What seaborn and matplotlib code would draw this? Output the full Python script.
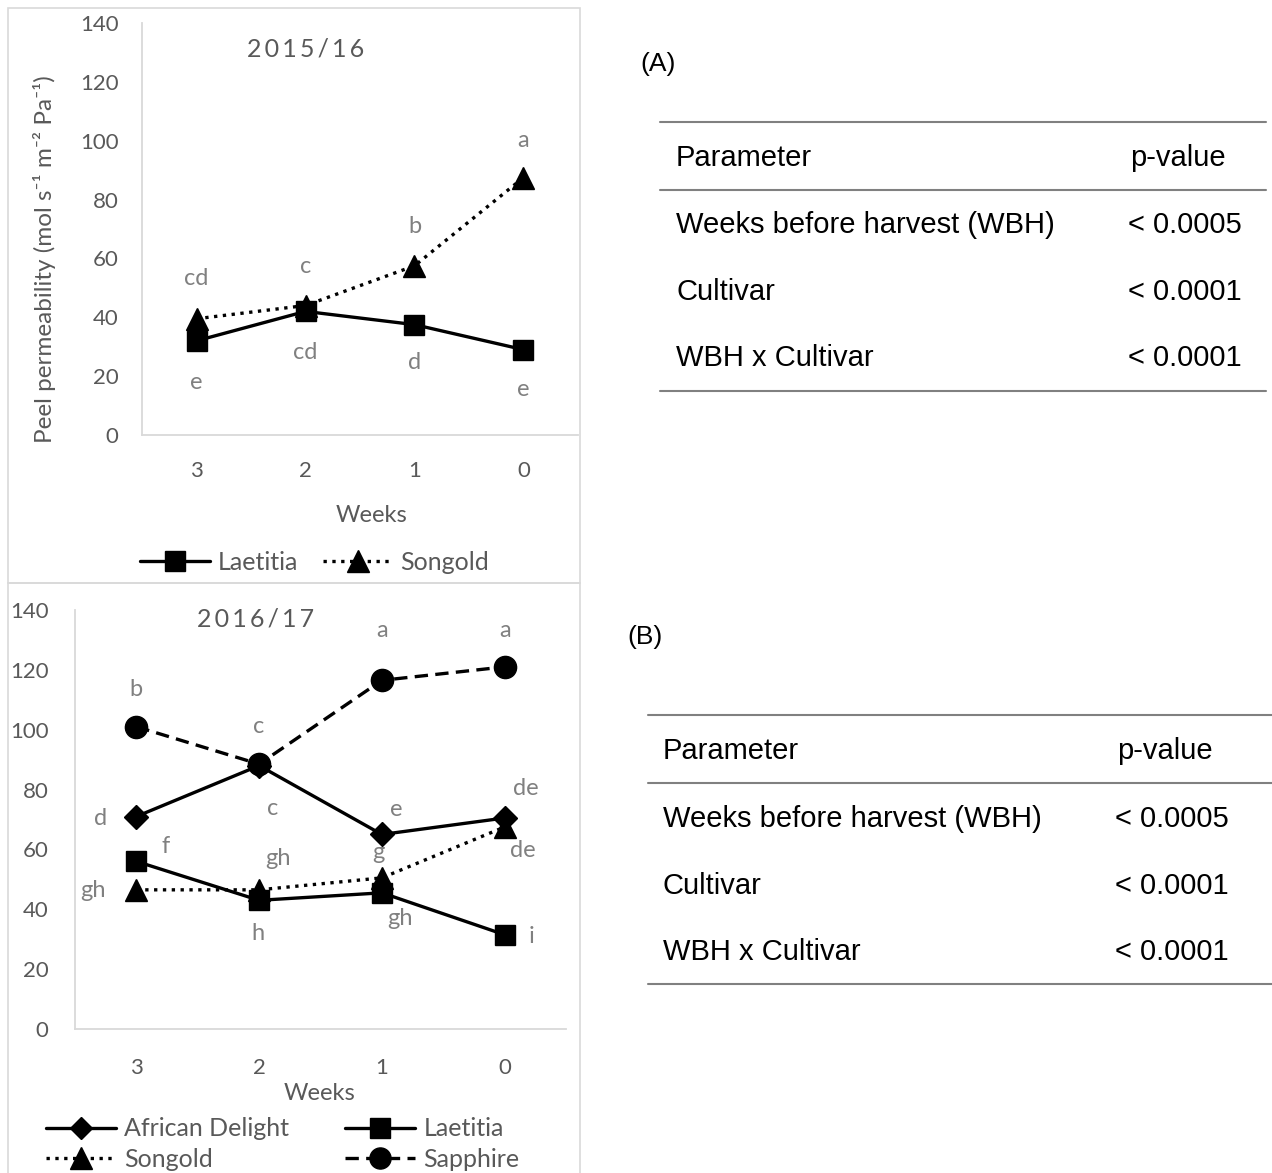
import matplotlib
matplotlib.use("Agg")
import matplotlib.pyplot as plt
import seaborn as sns
from matplotlib.lines import Line2D
from matplotlib.patches import Rectangle

# ---------------- data ----------------
weeks = ["3", "2", "1", "0"]

# 2015/16
laetitia_1516 = [32, 42, 37.5, 29]
songold_1516 = [39.5, 44, 57.5, 87.5]
letters_1516 = ["cd", "c", "b", "a", "e", "cd", "d", "e"]

# 2016/17
african_1617 = [71, 88, 65, 70.5]
laetitia_1617 = [56, 43, 45.5, 31.5]
songold_1617 = [46.5, 46.5, 50.5, 67.5]
sapphire_1617 = [101, 88.5, 116.5, 121]
letters_1617 = ["b", "c", "a", "a", "d", "c", "e", "de",
                "f", "gh", "g", "de", "gh", "h", "gh", "i"]

table_params = ["Weeks before harvest (WBH)", "Cultivar", "WBH x Cultivar"]
table_pvals_a = ["< 0.0005", "< 0.0001", "< 0.0001"]
table_pvals_b = ["< 0.0005", "< 0.0001", "< 0.0001"]

# letter label positions (category index, y value)
pos_1516 = [(0, 53.3), (1, 57.1), (2, 71), (3, 100.2),
            (0, 17.7), (1, 28.2), (2, 24.5), (3, 15.3)]
pos_1617 = [(0, 113.5), (1, 101), (2, 133.3), (3, 133.3),
            (-0.29, 70.3), (1.11, 73.7), (2.12, 73.3), (3.17, 80.4),
            (0.24, 61), (1.15, 56.9), (1.97, 58.9), (3.15, 59.6),
            (-0.35, 46.2), (0.99, 31.8), (2.15, 36.8), (3.22, 30.8)]

# ---------------- style ----------------
sns.set_theme(style="white")
FONT = ["Lato", "DejaVu Sans"]
plt.rcParams["font.family"] = FONT
TXT = "#595959"
LET = "#808080"
SPINE = "#d9d9d9"

W, H = 1272, 1173
fig = plt.figure(figsize=(W / 100, H / 100), dpi=100)
fig.patch.set_facecolor("white")


def fx(x):
    return x / W


def fy(y):
    return 1 - y / H


def make_axes(left, right, bottom, top):
    return fig.add_axes([fx(left), fy(bottom), (right - left) / W, (bottom - top) / H])


def style_axes(ax, ypad, xpad):
    ax.set_xlim(-0.5, 3.5)
    ax.set_ylim(0, 140)
    ax.set_yticks(range(0, 141, 20))
    ax.set_xticks(range(4))
    ax.set_xticklabels(weeks)
    for s in ["top", "right"]:
        ax.spines[s].set_visible(False)
    for s in ["left", "bottom"]:
        ax.spines[s].set_color(SPINE)
        ax.spines[s].set_linewidth(1.3)
    ax.tick_params(axis="y", length=0, pad=ypad, labelsize=16, labelcolor=TXT)
    ax.tick_params(axis="x", length=0, pad=xpad, labelsize=16, labelcolor=TXT)
    ax.set_facecolor("none")
    ax.grid(False)


def draw(ax, vals, marker, ls, ms, label):
    sns.lineplot(x=list(range(4)), y=vals, ax=ax, color="black", marker=marker,
                 linestyle=ls, linewidth=2.4, markersize=ms,
                 markeredgecolor="black", markerfacecolor="black",
                 markeredgewidth=1, label=label, legend=False)


SP = "\u2009"

# panel borders
fig.add_artist(Rectangle((fx(8), fy(583)), (580 - 8) / W, (583 - 8) / H,
                         transform=fig.transFigure, fill=False,
                         edgecolor=SPINE, linewidth=1.2))
fig.add_artist(Rectangle((fx(8), fy(1190)), (580 - 8) / W, (1190 - 583) / H,
                         transform=fig.transFigure, fill=False,
                         edgecolor=SPINE, linewidth=1.2))

# ---------------- top chart ----------------
ax1 = make_axes(142, 578, 435, 23)
style_axes(ax1, 17, 19)
draw(ax1, laetitia_1516, "s", "-", 15, "Laetitia")
draw(ax1, songold_1516, "^", ":", 16, "Songold")
for (x, y), t in zip(pos_1516, letters_1516):
    ax1.text(x, y, t, ha="center", va="center", fontsize=17, color=LET)
ax1.text(0.376, 0.937, SP.join("2015/16"),
         transform=ax1.transAxes, ha="center", va="center", fontsize=18, color=TXT)
ax1.set_ylabel("Peel permeability (mol s\u207b\u00b9 m\u207b\u00b2 Pa\u207b\u00b9)",
               fontsize=17.5, color=TXT)
ax1.yaxis.set_label_coords(-0.197, 0.427)
ax1.set_xlabel("Weeks", fontsize=17, color=TXT)
ax1.xaxis.set_label_coords(0.527, -0.17)
h1 = ax1.get_lines()
fig.legend(h1, ["Laetitia", "Songold"], loc="center left",
           bbox_to_anchor=(fx(140), fy(562)), ncol=2, frameon=False,
           fontsize=18, labelcolor=TXT, handlelength=2.8, handletextpad=0.3,
           columnspacing=1.0, borderpad=0, borderaxespad=0, markerscale=0.95)

# ---------------- bottom chart ----------------
ax2 = make_axes(75, 566, 1029, 610)
style_axes(ax2, 19, 21)
draw(ax2, african_1617, "D", "-", 12, "African Delight")
draw(ax2, laetitia_1617, "s", "-", 15, "Laetitia")
draw(ax2, songold_1617, "^", ":", 16, "Songold")
draw(ax2, sapphire_1617, "o", "--", 16, "Sapphire")
for (x, y), t in zip(pos_1617, letters_1617):
    ax2.text(x, y, t, ha="center", va="center", fontsize=17, color=LET)
ax2.text(0.367, 0.978, SP.join("2016/17"),
         transform=ax2.transAxes, ha="center", va="center", fontsize=18, color=TXT)
ax2.set_xlabel("Weeks", fontsize=17, color=TXT)
ax2.xaxis.set_label_coords(0.499, -0.129)
h2 = ax2.get_lines()
for ln in h2:
    if ln.get_linestyle() == "--":
        ln.set_dashes((4, 2.2))
fig.legend([h2[0], h2[2], h2[1], h2[3]],
           ["African Delight", "Songold", "Laetitia", "Sapphire"],
           loc="center left", bbox_to_anchor=(fx(46), fy(1144)), ncol=2,
           frameon=False, fontsize=18, labelcolor=TXT, handlelength=2.8,
           handletextpad=0.32, columnspacing=2.25, labelspacing=0.3,
           borderpad=0, borderaxespad=0, markerscale=0.95)

# ---------------- tables ----------------
TFONT = ["Liberation Sans", "DejaVu Sans"]
TS = 21


def table(label, lx, ly, x0, x1, ytop, yhead, ybot, xp, xv, ytxt, pvals):
    fig.text(fx(lx), fy(ly), label, fontsize=19, family=TFONT, color="black",
             ha="left", va="center")
    for y in (ytop, yhead, ybot):
        fig.add_artist(Line2D([fx(x0), fx(x1)], [fy(y), fy(y)],
                              transform=fig.transFigure, color="#808080", lw=1.5))
    fig.text(fx(xp), fy(ytxt[0]), "Parameter", fontsize=TS, family=TFONT,
             color="black", ha="left", va="center")
    fig.text(fx(xv), fy(ytxt[0]), "p-value", fontsize=TS, family=TFONT,
             color="black", ha="left", va="center")
    for i, (p, v) in enumerate(zip(table_params, pvals)):
        fig.text(fx(xp), fy(ytxt[i + 1]), p, fontsize=TS, family=TFONT,
                 color="black", ha="left", va="center")
        fig.text(fx(xv - 2), fy(ytxt[i + 1]), v, fontsize=TS, family=TFONT,
                 color="black", ha="left", va="center")


table("(A)", 640, 64, 660, 1266, 122, 190, 391, 676, 1130,
      [158, 225, 292, 358], table_pvals_a)
table("(B)", 627, 637, 648, 1272, 715, 783, 984, 663, 1117,
      [751, 819, 886, 952], table_pvals_b)

fig.savefig("out.png", dpi=100, facecolor="white")
